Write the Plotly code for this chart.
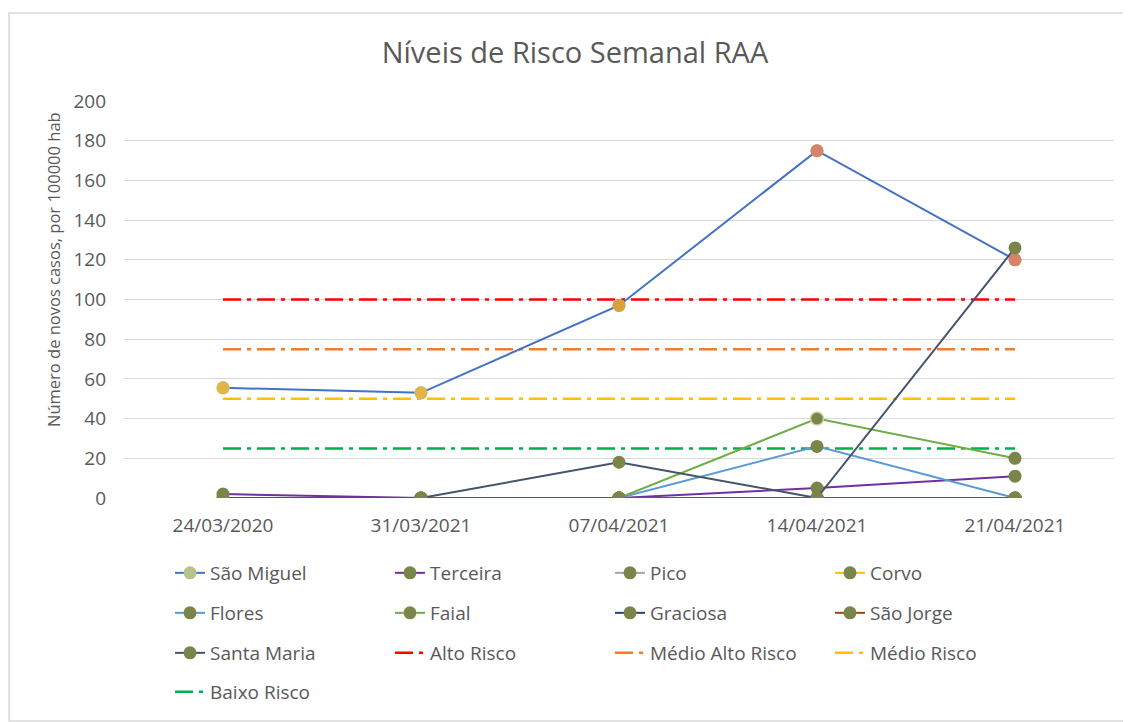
import plotly.graph_objects as go

# ---------------- data ----------------
dates = ["24/03/2020", "31/03/2021", "07/04/2021", "14/04/2021", "21/04/2021"]

sao_miguel = [55.5, 53, 97, 175, 120]
terceira = [2, 0, 0, 5, 11]
pico = [None, 0, 0, 0, 0]
corvo = [None, 0, 0, 0, 0]
flores = [None, None, 0, 26, 0]
faial = [None, None, 0, 40, 20]
graciosa = [None, 0, 0, 0, 0]
sao_jorge = [None, 0, 0, 0, 0]
santa_maria = [0, 0, 18, 0, 126]

alto_risco = [100, 100, 100, 100, 100]
medio_alto_risco = [75, 75, 75, 75, 75]
medio_risco = [50, 50, 50, 50, 50]
baixo_risco = [25, 25, 25, 25, 25]

y_ticks = [0, 20, 40, 60, 80, 100, 120, 140, 160, 180, 200]

# ---------------- geometry (page pixels) ----------------
OX, OY = 8, 8                     # page body margin
W, H = 1131 - OX, 722 - OY
PL, PR, PT, PB = 124, 1114, 101, 498
L, R, T, B = PL - OX, (OX + W) - PR, PT - OY, (OY + H) - PB
PW, PH = PR - PL, PB - PT


def px_x(px):
    return (px - PL) / PW


def px_y(py):
    return (PB - py) / PH


FONT = "'Open Sans', Lato, sans-serif"
TXT = "#595959"
OLIVE = "#7A854A"
MS = 13
DASH = "18px,6px,4px,6px"

fig = go.Figure()

risks = [
    ("Alto Risco", alto_risco, "#FF0000", "legend3"),
    ("Médio Alto Risco", medio_alto_risco, "#ED7D31", "legend3"),
    ("Médio Risco", medio_risco, "#FFC000", "legend3"),
    ("Baixo Risco", baixo_risco, "#00B050", "legend4"),
]

islands = [
    ("São Miguel", sao_miguel, "#4472C4", "legend"),
    ("Terceira", terceira, "#7030A0", "legend"),
    ("Pico", pico, "#A5A5A5", "legend"),
    ("Corvo", corvo, "#FFC000", "legend"),
    ("Flores", flores, "#5B9BD5", "legend2"),
    ("Faial", faial, "#70AD47", "legend2"),
    ("Graciosa", graciosa, "#264478", "legend2"),
    ("São Jorge", sao_jorge, "#9E480E", "legend2"),
    ("Santa Maria", santa_maria, "#44546A", "legend3"),
]

order = ["São Miguel", "Terceira", "Pico", "Corvo", "Flores", "Faial", "Graciosa",
         "São Jorge", "Santa Maria", "Alto Risco", "Médio Alto Risco", "Médio Risco",
         "Baixo Risco"]
rank = {n: i + 1 for i, n in enumerate(order)}

for name, vals, col, lg in risks:
    fig.add_trace(go.Scatter(
        x=dates, y=vals, name=name, mode="lines",
        line=dict(color=col, width=2.5, dash=DASH),
        legend=lg, legendrank=rank[name], hoverinfo="skip",
    ))

for name, vals, col, lg in islands:
    mcol = "#B5C48A" if name == "São Miguel" else OLIVE
    mline = dict(width=0)
    if name == "Faial":
        mline = dict(width=[0, 0, 0, 1.5, 0], color="#C9D69E")
    fig.add_trace(go.Scatter(
        x=dates, y=vals, name=name, mode="lines+markers",
        line=dict(color=col, width=2),
        marker=dict(color=mcol, size=MS, line=mline),
        legend=lg, legendrank=rank[name], connectgaps=False,
    ))
    if name == "São Miguel":
        fig.add_trace(go.Scatter(
            x=dates, y=vals, mode="markers", showlegend=False,
            marker=dict(color=["#E2B54A", "#E2B54A", "#D9A040", "#D9826A", "#D9826A"],
                        size=MS),
        ))

legend_common = dict(
    orientation="h", xanchor="left", yanchor="middle",
    font=dict(family=FONT, size=19, color=TXT),
    bgcolor="rgba(0,0,0,0)", entrywidth=175, entrywidthmode="pixels",
    itemclick=False, itemdoubleclick=False,
)
lx = px_x(170)

fig.update_layout(
    width=W, height=H,
    margin=dict(l=L, r=R, t=T, b=B, autoexpand=False),
    paper_bgcolor="white", plot_bgcolor="white",
    title=dict(text="Níveis de Risco Semanal RAA", x=(575 - OX) / W,
               xanchor="center", y=1 - (53 - OY) / H, yanchor="middle",
               font=dict(family=FONT, size=29, color=TXT)),
    xaxis=dict(type="category", categoryorder="array", categoryarray=dates,
               range=[-0.5, 4.5], showgrid=False, zeroline=False, showline=False,
               ticks="", ticklabelstandoff=14,
               tickfont=dict(family=FONT, size=19, color=TXT), automargin=False),
    yaxis=dict(range=[0, 200], tickvals=y_ticks, showgrid=True, gridcolor="#D9D9D9",
               gridwidth=1, zeroline=False, showline=False, ticks="",
               ticklabelstandoff=17,
               tickfont=dict(family=FONT, size=19, color=TXT), automargin=False),
    legend=dict(x=lx, y=px_y(573), **legend_common),
    legend2=dict(x=lx, y=px_y(613), **legend_common),
    legend3=dict(x=lx, y=px_y(653), **legend_common),
    legend4=dict(x=lx, y=px_y(692), **legend_common),
    showlegend=True,
)

fig.add_annotation(
    text="Número de novos casos, por 100000 hab", textangle=-90,
    x=px_x(53), y=px_y(270), xref="paper", yref="paper",
    xanchor="center", yanchor="middle", showarrow=False,
    font=dict(family=FONT, size=16.5, color=TXT),
)

fig.add_shape(type="rect", xref="paper", yref="paper",
              x0=px_x(9), x1=px_x(1145), y0=px_y(721), y1=px_y(13),
              line=dict(color="#D9D9D9", width=1.5), layer="below")

fig.write_html("out.html")
